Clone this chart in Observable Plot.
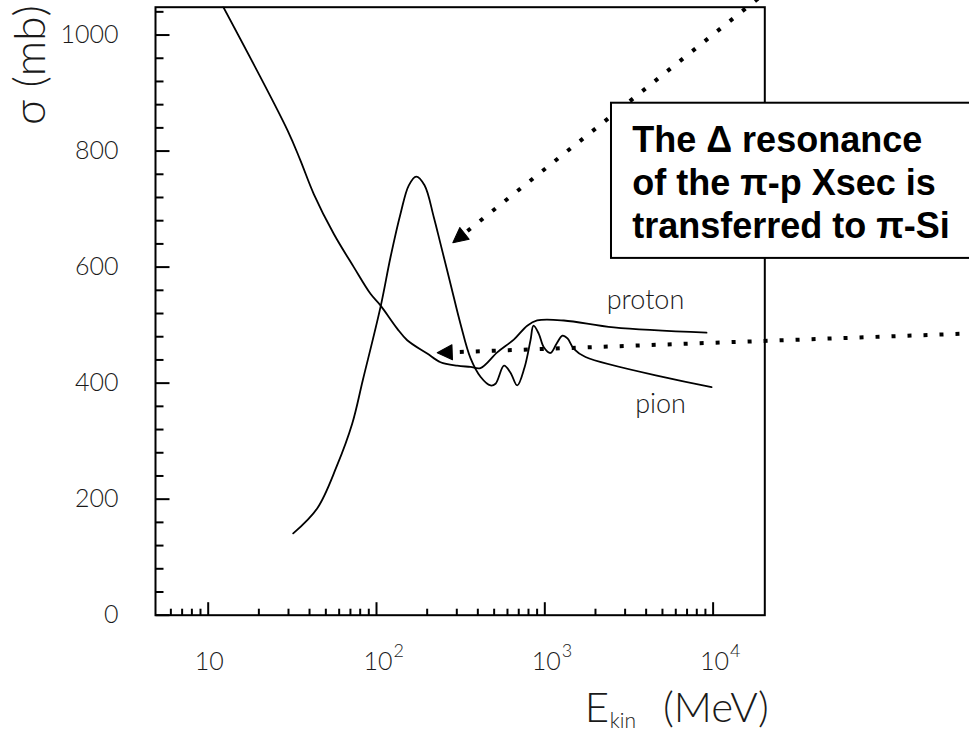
<!DOCTYPE html>
<html><head><meta charset="utf-8">
<script src="https://cdn.jsdelivr.net/npm/d3@7"></script>
<script src="https://cdn.jsdelivr.net/npm/@observablehq/plot@0.6"></script>
<style>
html,body{margin:0;padding:0;background:#fff;overflow:hidden;}
</style></head><body><div id="chart"></div>
<script>
// ---- data ----
const protonE = [11.7, 29.7, 35.3, 42.4, 55.8, 73.3, 92.1, 105.6, 132.7, 152.2, 200.1, 240.1, 301.6, 361.8, 414.8, 521.5, 654.3, 786, 901, 1297, 2570, 9137];
const protonSigma = [1060, 835, 784, 726, 657, 600, 554, 534, 494, 474, 451, 436, 430, 428, 426, 453, 475, 499, 508, 508, 496, 487];
const pionE = [32.0, 44.4, 57.9, 71.7, 82.9, 105.6, 121.1, 138.9, 155.6, 172.2, 192.9, 219, 240.1, 275.3, 315.6, 361.8, 414.8, 475.9, 509.6, 572.2, 625.5, 685.5, 757.6, 822.2, 856.6, 921.1, 986.3, 1081, 1174, 1274, 1364, 1487, 1745, 9784];
const pionSigma = [141, 184, 256, 330, 405, 531, 617, 692, 741, 756, 741, 686, 640, 571, 502, 443, 411, 396, 399, 430, 418, 396, 427, 474, 499, 485, 462, 452, 468, 482, 477, 459, 445, 393];

const xMajor = [10, 100, 1000, 10000];
const xTickBase = ["10", "10", "10", "10"];
const xTickExp = ["", "2", "3", "4"];
const xMinor = [6, 7, 8, 9, 20, 30, 40, 50, 60, 70, 80, 90, 200, 300, 400, 500, 600, 700, 800, 900, 2000, 3000, 4000, 5000, 6000, 7000, 8000, 9000];
const yMajor = [0, 200, 400, 600, 800, 1000];
const yTickLabels = ["0", "200", "400", "600", "800", "1000"];
const yMinor = [40, 80, 120, 160, 240, 280, 320, 360, 440, 480, 520, 560, 640, 680, 720, 760, 840, 880, 920, 960, 1040];

const curveLabels = ["proton", "pion"];
const curveLabelE = [3963, 4871];
const curveLabelSigma = [527, 348];

const noteLines = ["The \u0394 resonance", "of the \u03c0-p Xsec is", "transferred to \u03c0-Si"];
const noteBoxE = [2490, 343000];
const noteBoxSigma = [615, 882.5];
const noteTextE = 3306;
const noteTextSigma = 852;

const arrowFromE = [21900, 362000];
const arrowFromSigma = [1080, 486];
const arrowToE = [284, 229.5];
const arrowToSigma = [642, 452.3];

// ---- layout ----
const W = 969, H = 734;
const ML = 155, MR = 204.7, MT = 6.7, MB = 119.3;
const xDomain = [4.863, 20280];
const yDomain = [0, 1048];

const sx = Plot.scale({x: {type: "log", domain: xDomain, range: [ML, W - MR]}});
const sy = Plot.scale({y: {type: "linear", domain: yDomain, range: [H - MB, MT]}});

const proton = protonE.map((e, i) => ({e, s: protonSigma[i]}));
const pion = pionE.map((e, i) => ({e, s: pionSigma[i]}));
const xTicks = xMajor.map((v, i) => ({v, base: xTickBase[i], exp: xTickExp[i]}));
const labels = curveLabels.map((t, i) => ({t, e: curveLabelE[i], s: curveLabelSigma[i]}));

const HEAD = 15;
const arrows = arrowFromE.map((_, i) => {
  const px1 = sx.apply(arrowFromE[i]), py1 = sy.apply(arrowFromSigma[i]);
  const px2 = sx.apply(arrowToE[i]), py2 = sy.apply(arrowToSigma[i]);
  const dx = px2 - px1, dy = py2 - py1, len = Math.hypot(dx, dy);
  const bx = px2 - dx / len * HEAD, by = py2 - dy / len * HEAD;
  return {
    x1: arrowFromE[i], y1: arrowFromSigma[i],
    x2: arrowToE[i], y2: arrowToSigma[i],
    bx: sx.invert(bx), by: sy.invert(by),
    angle: Math.atan2(dx, -dy) * 180 / Math.PI
  };
});

const tickShape = {draw(context, l) { context.moveTo(0, 0); context.lineTo(0, -l); }};
const headShape = {draw(context, l) { context.moveTo(-7.5, 0); context.lineTo(0, -l); context.lineTo(7.5, 0); context.closePath(); }};

const thin = {fontFamily: "Lato, 'Open Sans', sans-serif", fontWeight: 300, fill: "#1a1a1a"};
const tickOpts = {stroke: "black", strokeWidth: 2, strokeLinecap: "butt", anchor: "start", shape: tickShape};

const plot = Plot.plot({
  width: W, height: H,
  marginLeft: ML, marginRight: MR, marginTop: MT, marginBottom: MB,
  x: {type: "log", domain: xDomain, axis: null},
  y: {type: "linear", domain: yDomain, axis: null},
  style: {background: "white", color: "black", overflow: "visible"},
  marks: [
    Plot.frame({stroke: "black", strokeWidth: 2}),
    Plot.vector(xMajor, {x: d => d, frameAnchor: "bottom", length: 13, rotate: 0, ...tickOpts}),
    Plot.vector(xMinor, {x: d => d, frameAnchor: "bottom", length: 6.5, rotate: 0, ...tickOpts}),
    Plot.vector(yMajor, {y: d => d, frameAnchor: "left", length: 14, rotate: 90, ...tickOpts}),
    Plot.vector(yMinor, {y: d => d, frameAnchor: "left", length: 8, rotate: 90, ...tickOpts}),
    // tick labels
    Plot.text(yMajor, {y: d => d, text: (d, i) => yTickLabels[i], frameAnchor: "left", textAnchor: "end", lineAnchor: "middle", dx: -37, fontSize: 25, ...thin}),
    Plot.text(xTicks.filter(d => d.exp === ""), {x: "v", text: "base", frameAnchor: "bottom", textAnchor: "middle", lineAnchor: "bottom", dx: 1, dy: 55, fontSize: 25, ...thin}),
    Plot.text(xTicks.filter(d => d.exp !== ""), {x: "v", text: "base", frameAnchor: "bottom", textAnchor: "end", lineAnchor: "bottom", dx: 16, dy: 55, fontSize: 25, ...thin}),
    Plot.text(xTicks.filter(d => d.exp !== ""), {x: "v", text: "exp", frameAnchor: "bottom", textAnchor: "start", lineAnchor: "bottom", dx: 17, dy: 42, fontSize: 18, ...thin}),
    // axis titles
    Plot.text(["E"], {frameAnchor: "bottom-right", textAnchor: "start", lineAnchor: "bottom", dx: -180, dy: 107, fontSize: 42, ...thin}),
    Plot.text(["kin"], {frameAnchor: "bottom-right", textAnchor: "start", lineAnchor: "bottom", dx: -155, dy: 113, fontSize: 21, ...thin}),
    Plot.text(["(MeV)"], {frameAnchor: "bottom-right", textAnchor: "end", lineAnchor: "bottom", dx: 4, dy: 107, fontSize: 42, ...thin}),
    Plot.text(["\u03c3 (mb)"], {frameAnchor: "top-left", rotate: -90, textAnchor: "end", lineAnchor: "bottom", dx: -111, dy: -2, fontSize: 44, ...thin}),
    // curves
    Plot.line(proton, {x: "e", y: "s", stroke: "black", strokeWidth: 1.8, curve: "catmull-rom", clip: true}),
    Plot.line(pion, {x: "e", y: "s", stroke: "black", strokeWidth: 1.8, curve: "catmull-rom", clip: true}),
    Plot.text(labels, {x: "e", y: "s", text: "t", textAnchor: "middle", lineAnchor: "bottom", fontSize: 27, ...thin}),
    // dotted arrows
    Plot.link(arrows, {x1: "x1", y1: "y1", x2: "bx", y2: "by", stroke: "black", strokeWidth: 4, strokeDasharray: "4,12"}),
    Plot.vector(arrows, {x: "x2", y: "y2", rotate: "angle", length: HEAD, anchor: "end", shape: headShape, fill: "black", stroke: "black", strokeWidth: 1}),
    // annotation box
    Plot.rect([0], {x1: () => noteBoxE[0], x2: () => noteBoxE[1], y1: () => noteBoxSigma[0], y2: () => noteBoxSigma[1], fill: "white", stroke: "black", strokeWidth: 2}),
    Plot.text([noteLines.join("\n")], {x: () => noteTextE, y: () => noteTextSigma, textAnchor: "start", lineAnchor: "top", lineHeight: 1.2, fontSize: 36, fontWeight: "bold", fontFamily: "'Liberation Sans', Arial, sans-serif", fill: "black"})
  ]
});
document.getElementById("chart").append(plot);
</script>
</body></html>
